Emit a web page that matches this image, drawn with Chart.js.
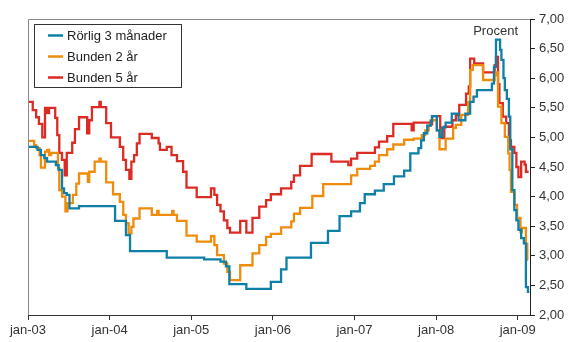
<!DOCTYPE html>
<html>
<head>
<meta charset="utf-8">
<script src="https://cdn.jsdelivr.net/npm/chart.js@4"></script>
<style>
html,body{margin:0;padding:0;background:#fff;}
#wrap{width:570px;height:342px;}
</style>
</head>
<body>
<div id="wrap"><canvas id="c" width="570" height="342"></canvas></div>
<script>
// Months since January 2003 (step change points) and values, in percent
const tickLabels = ['jan-03','jan-04','jan-05','jan-06','jan-07','jan-08','jan-09'];
const seriesNames = ['Rörlig 3 månader','Bunden 2 år','Bunden 5 år'];

const rorligMonths = [0,1.4,1.9,2.4,2.8,4.1,4.5,5.0,5.3,5.7,6.1,7.5,12.8,14.4,15.0,20.4,25.9,28.3,29.1,29.6,32.1,35.7,37.2,38.0,41.6,44.1,45.8,47.5,48.8,49.5,51.0,52.3,53.8,55.3,56.2,57.4,57.8,58.2,58.7,59.2,59.4,60.1,60.5,60.9,61.4,62.3,63.3,64.3,65.0,65.5,66.0,68.2,68.5,68.8,69.4,69.6,69.9,70.1,70.4,70.7,70.9,71.2,71.5,71.8,72.1,72.5,72.9,73.2,73.5,73.7];
const rorligValues = [4.84,4.79,4.70,4.65,4.59,4.53,4.45,4.14,4.06,4.03,3.80,3.84,3.59,3.35,3.08,2.97,2.94,2.90,2.82,2.52,2.44,2.56,2.77,2.97,3.22,3.42,3.67,3.75,3.89,4.04,4.10,4.21,4.34,4.44,4.73,4.82,4.95,5.07,5.20,5.27,5.36,5.12,5.01,5.17,5.25,5.40,5.29,5.40,5.60,5.69,5.80,5.91,6.19,6.65,6.48,6.31,6.00,5.80,5.65,5.35,4.80,4.11,3.77,3.60,3.44,3.30,3.21,2.47,2.39,2.39];

const bunden2Months = [0,0.9,1.2,1.7,1.9,2.5,2.8,3.1,3.4,4.4,4.6,5.0,5.5,5.8,6.6,7.1,7.5,8.8,9.0,9.8,10.5,10.7,11.5,12.5,13.5,14.0,14.4,14.8,15.2,15.5,16.4,18.2,19.0,19.2,21.2,21.4,21.9,23.3,24.8,26.9,27.4,27.8,28.8,29.3,29.7,31.2,33.0,34.0,35.0,35.7,37.2,38.7,39.1,40.0,41.8,43.4,47.5,48.4,50.3,51.0,51.6,52.8,53.7,55.3,56.7,57.9,58.4,58.9,59.2,60.1,60.5,61.4,62.5,62.9,63.7,64.7,65.0,65.4,66.9,68.6,68.9,69.1,69.6,70.1,70.6,70.8,71.0,71.5,71.9,72.4,72.6,73.2,73.4,73.5];
const bunden2Values = [4.94,4.87,4.82,4.70,4.49,4.76,4.79,4.70,4.74,4.48,4.11,4.00,3.75,3.89,4.03,4.22,4.39,4.25,4.42,4.59,4.64,4.59,4.24,4.04,3.91,3.69,3.55,3.38,3.49,3.63,3.80,3.69,3.76,3.69,3.76,3.69,3.59,3.34,3.24,3.33,3.18,3.01,2.87,2.73,2.59,2.84,3.04,3.18,3.32,3.37,3.48,3.58,3.71,3.81,4.01,4.21,4.36,4.47,4.52,4.59,4.70,4.80,4.88,4.96,4.98,5.04,5.12,5.20,5.29,5.12,4.80,4.98,5.16,5.21,5.38,5.60,6.14,6.22,5.97,6.05,6.10,5.52,5.24,5.01,4.73,4.45,4.08,3.86,3.64,3.40,3.47,3.20,2.93,2.93];

const bunden5Months = [0,0.7,1.2,1.6,2.1,2.5,2.8,3.1,4.0,4.3,4.6,5.0,5.4,5.7,6.5,6.9,7.5,8.7,9.0,9.4,10.5,10.7,11.5,12.2,13.5,14.0,14.4,14.9,15.2,15.6,16.0,16.4,18.2,19.2,19.4,20.4,21.1,21.9,22.8,23.3,24.8,26.9,27.4,27.8,28.3,28.8,29.3,29.7,31.2,32.1,33.0,34.0,35.0,35.7,37.2,38.7,39.1,40.0,41.7,44.6,47.1,47.5,48.4,51.0,51.6,52.8,53.7,56.4,56.7,59.2,59.4,60.6,61.2,62.4,62.9,63.4,64.4,64.8,65.0,65.6,66.9,68.6,68.8,69.1,69.3,69.8,70.3,70.7,71.0,71.5,71.8,72.1,72.5,73.0,73.2,73.6];
const bunden5Values = [5.60,5.46,5.34,5.23,5.00,5.50,5.41,5.50,5.33,5.04,4.74,4.62,4.36,4.74,4.91,5.14,5.34,5.07,5.29,5.51,5.60,5.51,5.24,5.00,4.84,4.62,4.45,4.30,4.59,4.70,4.90,5.06,4.99,4.90,4.79,4.84,4.70,4.60,4.42,4.15,3.99,4.14,4.03,3.86,3.75,3.60,3.47,3.39,3.59,3.39,3.64,3.83,3.94,4.04,4.14,4.25,4.36,4.52,4.72,4.59,4.53,4.64,4.74,4.83,4.93,5.02,5.23,5.12,5.25,5.22,5.36,4.99,5.18,5.29,5.38,5.55,5.74,5.86,6.33,6.25,6.10,6.22,6.36,5.90,5.58,5.35,5.24,4.95,4.84,4.74,4.50,4.33,4.59,4.54,4.42,4.42];

const yMin = 2, yMax = 7, yStep = 0.5;
const xMax = 73.8;
const unitLabel = 'Procent';

const colors = ['#0e7fa6', '#f08c0c', '#dc2b24'];
const FONT = "'Liberation Sans', Arial, Helvetica, sans-serif";

function pts(ms, vs){ return ms.map((m,i)=>({x:m, y:vs[i]})); }

const seriesData = [pts(rorligMonths, rorligValues), pts(bunden2Months, bunden2Values), pts(bunden5Months, bunden5Values)];

const framePlugin = {
  id: 'frame',
  afterDraw(chart){
    const ctx = chart.ctx, a = chart.chartArea;
    ctx.save();
    // top + left thin grey frame
    ctx.strokeStyle = '#8a8a8a';
    ctx.lineWidth = 1;
    ctx.beginPath();
    ctx.moveTo(Math.round(a.left)+0.5, Math.round(a.bottom));
    ctx.lineTo(Math.round(a.left)+0.5, Math.round(a.top)+0.5);
    ctx.lineTo(Math.round(a.right), Math.round(a.top)+0.5);
    ctx.stroke();
    // unit label
    ctx.fillStyle = '#333';
    ctx.font = '13px ' + FONT;
    ctx.textAlign = 'right';
    ctx.textBaseline = 'middle';
    ctx.fillText(unitLabel, 518, 31);
    // legend
    const lx = 34.5, ly = 24.5, lw = 147, lh = 63;
    ctx.fillStyle = '#fff';
    ctx.fillRect(lx, ly, lw, lh);
    ctx.strokeStyle = '#333';
    ctx.lineWidth = 1;
    ctx.strokeRect(lx, ly, lw, lh);
    chart.data.datasets.forEach((ds, i) => {
      const y = 35.5 + 21 * i;
      ctx.strokeStyle = ds.borderColor;
      ctx.lineWidth = 2.5;
      ctx.beginPath();
      ctx.moveTo(48, y);
      ctx.lineTo(63, y);
      ctx.stroke();
      ctx.fillStyle = '#222';
      ctx.textAlign = 'left';
      ctx.textBaseline = 'middle';
      ctx.fillText(ds.label, 67, y + 0.5);
    });
    ctx.restore();
  }
};

new Chart(document.getElementById('c'), {
  type: 'line',
  data: {
    datasets: seriesNames.map((name, i) => ({
      label: name,
      data: seriesData[i],
      borderColor: colors[i],
      backgroundColor: colors[i],
      borderWidth: 2.3,
      pointRadius: 0,
      stepped: true,
      fill: false,
      tension: 0
    }))
  },
  options: {
    responsive: false,
    animation: false,
    devicePixelRatio: 1,
    layout: { padding: { top: 19, left: 28, right: 0, bottom: 0 } },
    plugins: { legend: { display: false }, tooltip: { enabled: false } },
    scales: {
      x: {
        type: 'linear',
        min: 0,
        max: xMax,
        afterBuildTicks(scale){ scale.ticks = tickLabels.map((l, i) => ({ value: i * 12 })); },
        afterFit(scale){ scale.height = 27; },
        ticks: {
          autoSkip: false,
          maxRotation: 0,
          padding: 3,
          color: '#333',
          font: { family: FONT, size: 13 },
          callback(v, i){ return tickLabels[i]; }
        },
        grid: { display: true, drawOnChartArea: false, drawTicks: true, tickLength: 5, color: '#333', lineWidth: 1 },
        border: { display: true, color: '#333', width: 1 }
      },
      y: {
        position: 'right',
        min: yMin,
        max: yMax,
        afterFit(scale){ scale.width = 40; },
        ticks: {
          stepSize: yStep,
          padding: 4,
          color: '#333',
          font: { family: FONT, size: 13 },
          callback(v){ return Number(v).toFixed(2).replace('.', ','); }
        },
        grid: { display: true, drawOnChartArea: false, drawTicks: true, tickLength: 5, color: '#222', lineWidth: 1 },
        border: { display: true, color: '#222', width: 1 }
      }
    }
  },
  plugins: [framePlugin]
});
</script>
</body>
</html>
